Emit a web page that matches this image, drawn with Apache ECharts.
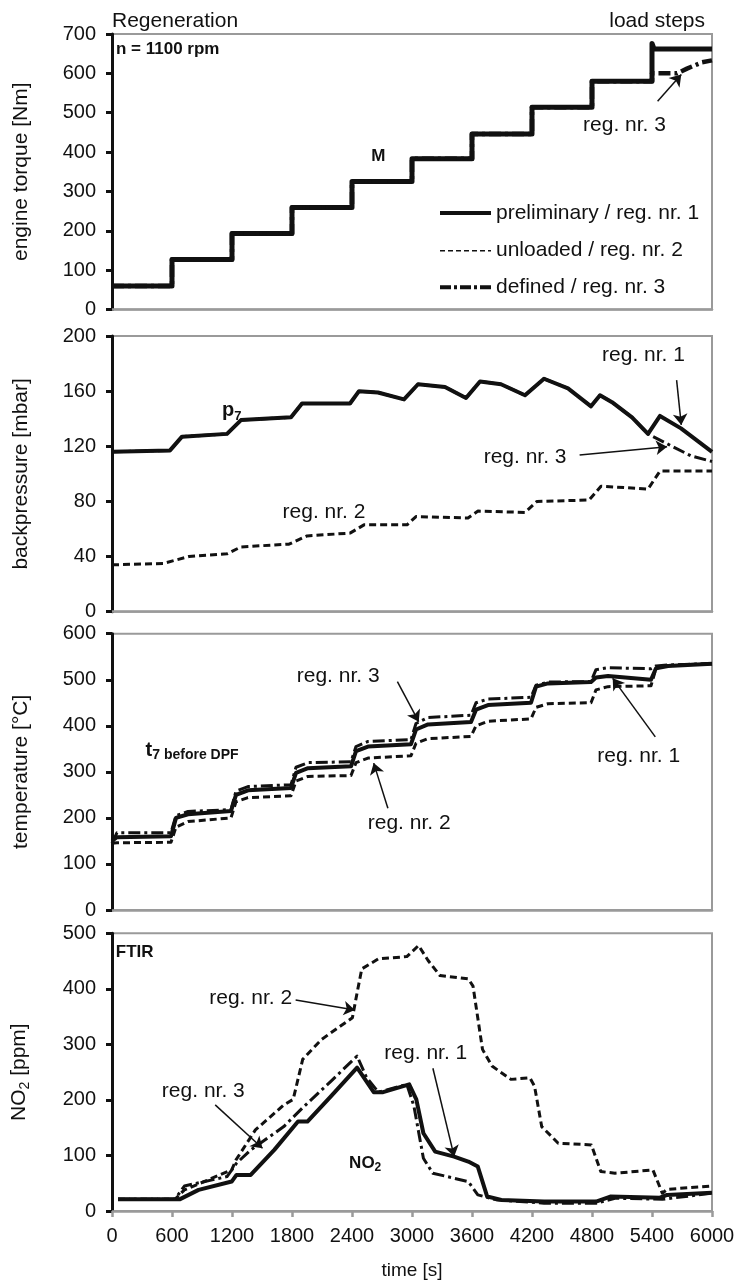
<!DOCTYPE html>
<html><head><meta charset="utf-8">
<script src="https://cdn.jsdelivr.net/npm/echarts@6/dist/echarts.min.js"></script>
<style>html,body{margin:0;padding:0;background:#fff}#c{width:743px;height:1282px}</style>
</head><body><div id="c"></div>
<script>
// ---------------- data ----------------
const seriesNames = ['preliminary / reg. nr. 1', 'unloaded / reg. nr. 2', 'defined / reg. nr. 3'];

// engine torque [Nm]
const torqueX  = [0, 600, 600, 1200, 1200, 1800, 1800, 2400, 2400, 3000, 3000, 3600, 3600, 4200, 4200, 4800, 4800, 5400, 5400, 5420, 6000];
const torque1  = [60, 60, 127, 127, 193, 193, 259, 259, 325, 325, 383, 383, 446, 446, 514, 514, 580, 580, 676, 662, 662];
const torque2  = [60, 60, 127, 127, 193, 193, 259, 259, 325, 325, 383, 383, 446, 446, 514, 514, 580, 580, 664, 660, 660];
const torque3X = [0, 600, 600, 1200, 1200, 1800, 1800, 2400, 2400, 3000, 3000, 3600, 3600, 4200, 4200, 4800, 4800, 5400, 5400, 5650, 5750, 5900, 6000];
const torque3  = [60, 60, 127, 127, 193, 193, 259, 259, 325, 325, 383, 383, 446, 446, 514, 514, 580, 580, 600, 600, 612, 628, 633];

// backpressure [mbar]
const bpX1 = [0, 580, 700, 1150, 1290, 1790, 1900, 2380, 2470, 2660, 2920, 3060, 3330, 3540, 3680, 3890, 4130, 4320, 4560, 4790, 4880, 5000, 5200, 5360, 5480, 5690, 6000];
const bp1  = [116, 117, 127, 129, 139, 141, 151, 151, 160, 159, 154, 165, 163, 155, 167, 165, 157, 169, 162, 149, 157, 152, 141, 129, 142, 133, 116];
const bpX2 = [0, 510, 770, 1150, 1290, 1770, 1950, 2380, 2520, 2950, 3040, 3560, 3660, 4130, 4250, 4770, 4890, 5360, 5480, 6000];
const bp2  = [34, 35, 40, 42, 47, 49, 55, 57, 63, 63, 69, 68, 73, 72, 80, 81, 91, 89, 102, 102];
const bpX3 = [0, 580, 700, 1150, 1290, 1790, 1900, 2380, 2470, 2660, 2920, 3060, 3330, 3540, 3680, 3890, 4130, 4320, 4560, 4790, 4880, 5000, 5200, 5360, 5600, 5790, 6000];
const bp3  = [116, 117, 127, 129, 139, 141, 151, 151, 160, 159, 154, 165, 163, 155, 167, 165, 157, 169, 162, 149, 157, 152, 141, 129, 120, 113, 109];

// temperature t7 before DPF [°C]
const tempX = [0, 50, 590, 640, 760, 1190, 1240, 1360, 1790, 1840, 1960, 2390, 2440, 2560, 2990, 3040, 3160, 3590, 3640, 3760, 4190, 4240, 4360, 4790, 4840, 4960, 5390, 5440, 5560, 6000];
const temp1 = [150, 158, 160, 200, 208, 215, 250, 260, 265, 298, 308, 312, 345, 355, 360, 392, 403, 408, 435, 445, 450, 485, 492, 495, 505, 508, 500, 525, 530, 535];
const temp2 = [145, 146, 147, 180, 192, 200, 235, 244, 248, 280, 290, 292, 320, 330, 335, 362, 372, 377, 400, 410, 415, 440, 448, 450, 478, 485, 487, 525, 531, 535];
const temp3 = [145, 168, 168, 205, 214, 218, 258, 268, 272, 310, 320, 322, 355, 366, 370, 405, 418, 423, 450, 458, 462, 488, 495, 496, 522, 526, 524, 530, 532, 535];

// NO2 [ppm] (FTIR)
const no2X1 = [60, 676, 866, 1197, 1245, 1387, 1623, 1860, 1954, 2191, 2451, 2617, 2711, 2972, 3043, 3114, 3232, 3421, 3563, 3658, 3752, 3894, 4320, 4841, 4983, 5480, 5551, 6000];
const no2R1 = [21, 21, 38, 53, 65, 65, 110, 161, 161, 207, 258, 214, 214, 228, 201, 140, 107, 98, 89, 80, 26, 20, 17, 17, 26, 24, 29, 33];
const no2X2 = [60, 629, 724, 1197, 1240, 1434, 1718, 1812, 1907, 2096, 2285, 2404, 2451, 2498, 2664, 2948, 3066, 3161, 3279, 3563, 3610, 3705, 3800, 3989, 4178, 4225, 4297, 4462, 4794, 4888, 5030, 5409, 5503, 5551, 6000];
const no2R2 = [21, 21, 38, 74, 92, 146, 191, 201, 273, 309, 333, 348, 393, 436, 454, 458, 478, 451, 424, 418, 405, 291, 261, 237, 240, 225, 152, 122, 119, 71, 68, 74, 32, 39, 45];
const no2X3 = [60, 629, 724, 1150, 1245, 1387, 1718, 1907, 2191, 2451, 2546, 2664, 2948, 3019, 3114, 3208, 3563, 3658, 3847, 4320, 4841, 5030, 5503, 6000];
const no2R3 = [21, 21, 45, 62, 86, 110, 152, 186, 234, 279, 240, 214, 228, 189, 95, 68, 53, 29, 20, 14, 14, 23, 21, 32];

// annotations: [x, y, text, align, style]
const notesTorque = [[40, 662, 'n = 1100 rpm', 'left', 'bold'], [2664, 388, 'M', 'center', 'bold'], [5125, 469, 'reg. nr. 3']];
const arrowsTorque = [[5456, 529, 5693, 597]];
const notesBack = [[1100, 146, '{b|p}{s|7}', 'left'], [5315, 186, 'reg. nr. 1'], [4131, 112, 'reg. nr. 3'], [2120, 72, 'reg. nr. 2']];
const arrowsBack = [[5646, 168, 5693, 135.5], [4676, 113.7, 5551, 119.7]];
const notesTemp = [[336, 347, '{b|t}{t|7 before DPF}', 'left'], [2262, 507, 'reg. nr. 3'], [2972, 188, 'reg. nr. 2'], [5267, 333, 'reg. nr. 1']];
const arrowsTemp = [[2854, 496, 3067, 409], [2759, 221, 2617, 319], [5433, 376, 5007, 503]];
const notesNo2 = [[38, 465, 'FTIR', 'left', 'bold'], [1387, 383, 'reg. nr. 2'], [913, 215, 'reg. nr. 3'], [3138, 284, 'reg. nr. 1'], [2532, 86, '{n|NO}{ns|2}']];
const arrowsNo2 = [[1836, 380, 2428, 362], [1032, 191, 1505, 113], [3209, 257, 3422, 98]];

// ---------------- chart ----------------
const F = "'Liberation Sans', Arial, Helvetica, sans-serif";
const INK = '#111111';
const GRAY = '#9a9a9a';

const RICH = {
  b:  {fontSize: 20, fontWeight: 'bold', fontFamily: F, color: INK},
  s:  {fontSize: 13, fontWeight: 'bold', fontFamily: F, color: INK, verticalAlign: 'top', padding: [11, 0, 0, 0]},
  t:  {fontSize: 14, fontWeight: 'bold', fontFamily: F, color: INK, verticalAlign: 'top', padding: [10, 0, 0, 0]},
  n:  {fontSize: 17, fontWeight: 'bold', fontFamily: F, color: INK},
  ns: {fontSize: 12, fontWeight: 'bold', fontFamily: F, color: INK, verticalAlign: 'top', padding: [9, 0, 0, 0]}
};
const NOTE_STYLE = {
  norm: {fontSize: 21, fontWeight: 'normal'},
  bold: {fontSize: 17, fontWeight: 'bold'}
};

const STY = {
  r1: {type: 'solid', width: 4},
  r2: {type: [7, 4], width: 3},
  r3: {type: [12, 4, 3, 4], width: 3}
};

function pairs(xs, ys) { return xs.map((x, i) => [x, ys[i]]); }

function line(name, xs, ys, gi, sty) {
  return {
    type: 'line', name: name, xAxisIndex: gi, yAxisIndex: gi,
    data: pairs(xs, ys), symbol: 'none', showSymbol: false, silent: true,
    lineStyle: Object.assign({color: '#111', cap: 'butt', join: 'round'}, sty),
    itemStyle: {color: '#111'}
  };
}

function notes(gi, arr, arrows) {
  return {
    type: 'scatter', xAxisIndex: gi, yAxisIndex: gi, symbolSize: 0, silent: true, z: 10,
    itemStyle: {color: '#111'},
    label: {show: true, position: 'inside', color: INK, fontFamily: F, rich: RICH},
    data: arr.map(n => ({
      value: [n[0], n[1]],
      label: Object.assign({show: true, position: 'inside', formatter: n[2], align: n[3] || 'center',
        verticalAlign: 'middle', color: INK, opacity: 1, textBorderWidth: 0, fontFamily: F, rich: RICH}, NOTE_STYLE[n[4] || 'norm'])
    })),
    markLine: {
      silent: true, animation: false, symbol: ['none', 'arrow'], symbolSize: 11, precision: 4,
      label: {show: false}, emphasis: {disabled: true},
      itemStyle: {color: INK},
      lineStyle: {color: INK, width: 1.5, type: 'solid', opacity: 1},
      data: arrows.map(a => [{coord: [a[0], a[1]]}, {coord: [a[2], a[3]]}])
    }
  };
}

const grids = [
  {left: 112, right: 31, top: 34, height: 275.5},
  {left: 112, right: 31, top: 336, height: 275.7},
  {left: 112, right: 31, top: 633.7, height: 276.3},
  {left: 112, right: 31, top: 933.3, height: 277.7}
].map(g => Object.assign(g, {show: true, borderColor: GRAY, borderWidth: 2, backgroundColor: 'transparent', containLabel: false, outerBoundsMode: 'none'}));

const xAxes = [0, 1, 2, 3].map(i => ({
  type: 'value', gridIndex: i, min: 0, max: 6000, interval: 600,
  axisLine: {show: true, onZero: false, lineStyle: {color: GRAY, width: 2.5}},
  axisTick: {show: i === 3, inside: false, length: 6, lineStyle: {color: GRAY, width: 2.5}},
  axisLabel: {show: i === 3, margin: 15, color: INK, fontSize: 20, fontFamily: F, formatter: v => String(v)},
  splitLine: {show: false},
  name: i === 3 ? 'time [s]' : '', nameLocation: 'middle', nameGap: 50,
  nameTextStyle: {color: INK, fontSize: 19, fontFamily: F}
}));

const yDefs = [
  {max: 700, interval: 100, name: 'engine torque [Nm]'},
  {max: 200, interval: 40, name: 'backpressure [mbar]'},
  {max: 600, interval: 100, name: 'temperature [°C]'},
  {max: 500, interval: 100, name: '{a|NO}{s|2}{a| [ppm]}'}
];
const yAxes = yDefs.map((d, i) => ({
  type: 'value', gridIndex: i, min: 0, max: d.max, interval: d.interval,
  axisLine: {show: true, onZero: false, lineStyle: {color: INK, width: 3}},
  axisTick: {show: true, inside: false, length: 6, lineStyle: {color: INK, width: 3}},
  axisLabel: {show: true, margin: 16, color: INK, fontSize: 20, fontFamily: F, formatter: v => String(v)},
  splitLine: {show: false},
  name: d.name, nameLocation: 'middle', nameGap: 80,
  nameTextStyle: {color: INK, fontSize: 21, fontFamily: F,
    rich: {a: {fontSize: 21, fontFamily: F, color: INK}, s: {fontSize: 14, fontFamily: F, color: INK, verticalAlign: 'top', padding: [12, 0, 0, 0]}}}
}));

const series = [
  // torque
  line(seriesNames[0], torqueX, torque1, 0, {type: 'solid', width: 5}),
  line(seriesNames[1], torqueX, torque2, 0, {type: [6, 4], width: 2}),
  line(seriesNames[2], torque3X, torque3, 0, {type: [12, 4, 3, 4], width: 4.5}),
  // backpressure
  line(seriesNames[1], bpX2, bp2, 1, STY.r2),
  line(seriesNames[2], bpX3, bp3, 1, STY.r3),
  line(seriesNames[0], bpX1, bp1, 1, STY.r1),
  // temperature
  line(seriesNames[1], tempX, temp2, 2, STY.r2),
  line(seriesNames[2], tempX, temp3, 2, STY.r3),
  line(seriesNames[0], tempX, temp1, 2, STY.r1),
  // NO2
  line(seriesNames[1], no2X2, no2R2, 3, STY.r2),
  line(seriesNames[2], no2X3, no2R3, 3, STY.r3),
  line(seriesNames[0], no2X1, no2R1, 3, STY.r1),
  // annotations
  notes(0, notesTorque, arrowsTorque),
  notes(1, notesBack, arrowsBack),
  notes(2, notesTemp, arrowsTemp),
  notes(3, notesNo2, arrowsNo2)
];

// legend drawn as graphic (line samples + texts)
const legendRows = [
  {y: 213, dash: null, w: 4},
  {y: 250.7, dash: [5, 3], w: 1.6},
  {y: 287.3, dash: [11, 3, 3, 3], w: 4}
];
const legendGraphics = [];
legendRows.forEach((r, i) => {
  legendGraphics.push({type: 'line', silent: true, z: 20,
    shape: {x1: 440, y1: r.y, x2: 491, y2: r.y},
    style: {stroke: INK, lineWidth: r.w, lineDash: r.dash || null}});
  legendGraphics.push({type: 'text', silent: true, z: 20, x: 496, y: r.y,
    style: {text: seriesNames[i], fill: INK, fontSize: 21, fontFamily: F, verticalAlign: 'middle', align: 'left'}});
});

const option = {
  animation: false,
  backgroundColor: '#fff',
  textStyle: {fontFamily: F},
  grid: grids, xAxis: xAxes, yAxis: yAxes, series: series,
  graphic: [
    {type: 'text', left: 112, top: 11, style: {text: 'Regeneration', fill: INK, fontSize: 21, fontFamily: F}},
    {type: 'text', right: 38, top: 11, style: {text: 'load steps', fill: INK, fontSize: 21, fontFamily: F}}
  ].concat(legendGraphics)
};

const chart = echarts.init(document.getElementById('c'), null, {renderer: 'canvas'});
chart.setOption(option);
</script></body></html>
